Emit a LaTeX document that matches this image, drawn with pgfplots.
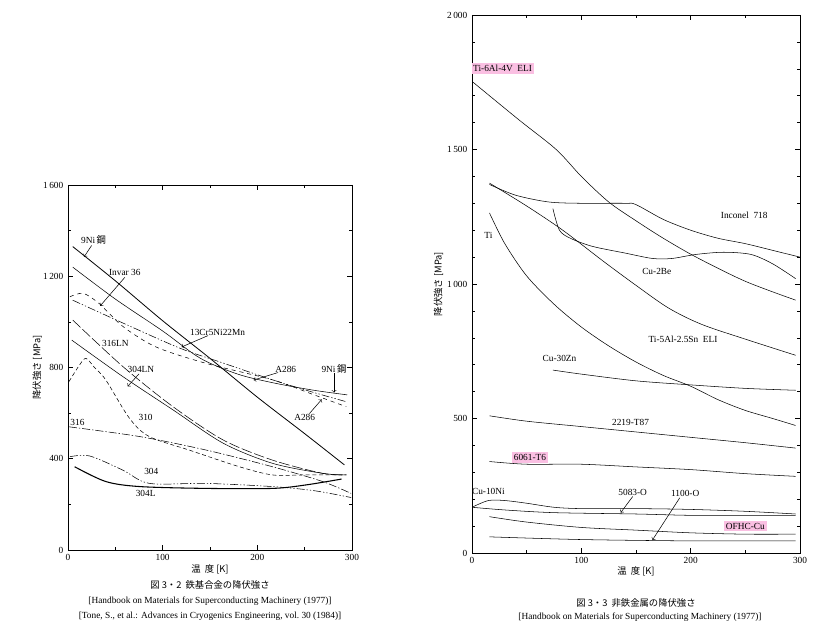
\documentclass[border=0pt]{standalone}
\usepackage{pgfplots}
\pgfplotsset{compat=1.18}
\usepackage{fontspec}
\setmainfont{Liberation Serif}
\newfontfamily\cjk{Noto Sans CJK JP}
\begin{document}
\begin{tikzpicture}[x=1pt,y=1pt]
\fill[white] (0,0) rectangle (614.25,480);
\pgfplotsset{every axis/.style={scale only axis, anchor=south west, tick align=inside,
  cycle list={{black}},
  tick style={black,thin}, major tick length=4pt, minor tick length=2.5pt,
  ticklabel style={font=\fontsize{7}{8}\selectfont}, /pgf/number format/assume math mode=true,
  axis line style={thin}, every axis plot/.append style={black,thin,smooth,no markers}}}
% left
\begin{axis}[at={(51pt,67.5pt)}, width=213pt, height=273.75pt, xmin=0,xmax=300,ymin=0,ymax=1600,
  xtick={0,100,200,300}, minor xtick={50,150,250}, ytick={0,400,800,1200,1600},
  yticklabels={0,400,800,1\,200,1\,600}, minor ytick={200,600,1000,1400},
  xlabel={\cjk 温\ \ 度\ [K]}, xlabel style={font=\fontsize{7}{8}\selectfont, yshift=4pt},
  ylabel={\cjk 降伏強さ [MPa]}, ylabel style={font=\fontsize{7}{8}\selectfont, yshift=-6pt}]
\addplot[black,semithick] coordinates {(5,1330)(50,1180)(100,1005)(150,840)(200,670)(250,510)(292,373)};
\addplot[black] coordinates {(5,1240)(50,1100)(100,960)(140,840)(180,770)(220,730)(260,700)(295,680)};
\addplot[black,dash pattern=on 6pt off 1.5pt on 1pt off 1.5pt on 1pt off 1.5pt] coordinates {(5,1095)(58,995)(118,885)(160,825)(216,746)(260,690)(294,650)};
\addplot[black,dashed] coordinates {(2,1110)(16,1125)(33,1080)(58,980)(93,890)(146,818)(216,746)(260,680)(294,628)};
\addplot[black,dash pattern=on 8pt off 2pt] coordinates {(5,1008)(58,804)(111,628)(164,482)(216,394)(269,336)(294,329)};
\addplot[black] coordinates {(4,920)(58,760)(111,614)(164,468)(216,380)(269,336)(294,329)};
\addplot[black,densely dashed] coordinates {(1,738)(12,810)(19,840)(28,800)(40,745)(65,577)(86,497)(128,438)(181,365)(216,329)(250,329)(294,329)};
\addplot[black,dash pattern=on 6pt off 1.5pt on 1pt off 1.5pt] coordinates {(1,540)(76,497)(146,438)(216,365)(269,300)(299,248)};
\addplot[black,dash pattern=on 6pt off 1.5pt on 1pt off 1.5pt on 1pt off 1.5pt] coordinates {(2,409)(23,412)(58,350)(86,292)(146,292)(216,278)(260,260)(299,230)};
\addplot[black,thick] coordinates {(7,365)(40,300)(76,278)(146,270)(216,270)(251,285)(289,311)};
\begin{scope}[font=\fontsize{7}{8}\selectfont]
\node at (axis cs:27,1360) {9Ni\,\cjk 鋼};
\draw[->] (axis cs:25,1335) -- (axis cs:17,1285);
\node at (axis cs:60,1215) {Invar 36};
\draw[->] (axis cs:60,1195) -- (axis cs:34,1070);
\node at (axis cs:158,955) {13Cr5Ni22Mn};
\draw[->] (axis cs:148,940) -- (axis cs:120,890);
\node at (axis cs:50,905) {316LN};
\node at (axis cs:77,790) {304LN};
\draw[->] (axis cs:75,772) -- (axis cs:63,717);
\node at (axis cs:230,793) {A286};
\draw[->] (axis cs:222,778) -- (axis cs:196,745);
\node at (axis cs:281,795) {9Ni\,\cjk 鋼};
\draw[->] (axis cs:281,775) -- (axis cs:281,690);
\node at (axis cs:250,580) {A286};
\draw[->] (axis cs:255,598) -- (axis cs:268,660);
\node at (axis cs:82,580) {310};
\node at (axis cs:10,560) {316};
\node at (axis cs:88,345) {304};
\node at (axis cs:82,250) {304L};
\end{scope}
\end{axis}
% right
\begin{axis}[at={(354pt,65.25pt)}, width=246pt, height=403.5pt, xmin=0,xmax=300,ymin=0,ymax=2000,
  xtick={0,100,200,300}, minor xtick={50,150,250}, ytick={0,500,1000,1500,2000},
  yticklabels={0,500,1\,000,1\,500,2\,000}, minor ytick={100,200,...,1900},
  xlabel={\cjk 温\ \ 度\ [K]}, xlabel style={font=\fontsize{7}{8}\selectfont, yshift=5pt},
  ylabel={\cjk 降伏強さ [MPa]}, ylabel style={font=\fontsize{7}{8}\selectfont, yshift=-4pt}]
\addplot[black] coordinates {(1,1750)(43,1610)(77,1500)(100,1400)(125,1305)(150,1235)(175,1170)(205,1100)(250,1010)(296,940)};
\addplot[black] coordinates {(16,1375)(50,1290)(83,1200)(120,1085)(150,995)(180,910)(210,850)(250,795)(296,735)};
\addplot[black] coordinates {(16,1264)(30,1150)(50,1030)(75,925)(100,840)(125,770)(150,710)(175,660)(200,620)(225,570)(250,530)(275,500)(296,474)};
\addplot[black] coordinates {(16,1370)(40,1330)(70,1305)(100,1300)(140,1300)(150,1295)(175,1240)(200,1200)(225,1170)(250,1150)(275,1125)(300,1100)};
\addplot[black] coordinates {(74,1280)(80,1200)(90,1170)(110,1140)(140,1115)(165,1095)(183,1095)(205,1110)(230,1118)(255,1110)(275,1075)(296,1020)};
\addplot[black] coordinates {(74,680)(100,665)(150,640)(200,625)(250,612)(296,605)};
\addplot[black] coordinates {(16,510)(50,490)(100,470)(150,450)(200,430)(250,410)(296,390)};
\addplot[black] coordinates {(16,340)(50,330)(100,330)(150,320)(200,310)(250,295)(296,285)};
\addplot[black] coordinates {(0,170)(15,195)(30,195)(50,185)(75,170)(100,165)(150,165)(200,162)(250,155)(296,145)};
\addplot[black] coordinates {(0,170)(30,160)(75,150)(150,145)(200,140)(250,140)(296,140)};
\addplot[black] coordinates {(16,135)(50,115)(100,95)(150,85)(200,75)(250,70)(296,70)};
\addplot[black] coordinates {(16,60)(100,50)(200,45)(296,45)};
\begin{scope}[font=\fontsize{7}{8}\selectfont]
\node[fill=magenta!25, inner sep=1.5pt] at (axis cs:28,1800) {Ti-6Al-4V\ \ ELI};
\node at (axis cs:249,1255) {Inconel\ \ 718};
\node at (axis cs:15,1180) {Ti};
\node at (axis cs:169,1045) {Cu-2Be};
\node at (axis cs:193,795) {Ti-5Al-2.5Sn\ \ ELI};
\node at (axis cs:80,725) {Cu-30Zn};
\node at (axis cs:145,485) {2219-T87};
\node[fill=magenta!25, inner sep=1.5pt] at (axis cs:53,355) {6061-T6};
\node at (axis cs:15,230) {Cu-10Ni};
\node at (axis cs:147,225) {5083-O};
\draw[->] (axis cs:147,210) -- (axis cs:136,150);
\node at (axis cs:195,220) {1100-O};
\draw[->] (axis cs:190,205) -- (axis cs:165,48);
\node[fill=magenta!25, inner sep=1.5pt] at (axis cs:250,100) {OFHC-Cu};
\end{scope}
\end{axis}
\begin{scope}[font=\fontsize{7}{8}\selectfont]
\node at (157.5,41.25) {\cjk 図 3・2\ \ 鉄基合金の降伏強さ};
\node at (157.5,29.25) {[Handbook on Materials for Superconducting Machinery (1977)]};
\node at (157.5,18) {[Tone, S., et al.: Advances in Cryogenics Engineering, vol.\ 30 (1984)]};
\node at (477,27.75) {\cjk 図 3・3\ \ 非鉄金属の降伏強さ};
\node at (480,17.25) {[Handbook on Materials for Superconducting Machinery (1977)]};
\end{scope}
\pgfresetboundingbox
\useasboundingbox (0,0) rectangle (614.25,480);
\end{tikzpicture}
\end{document}
